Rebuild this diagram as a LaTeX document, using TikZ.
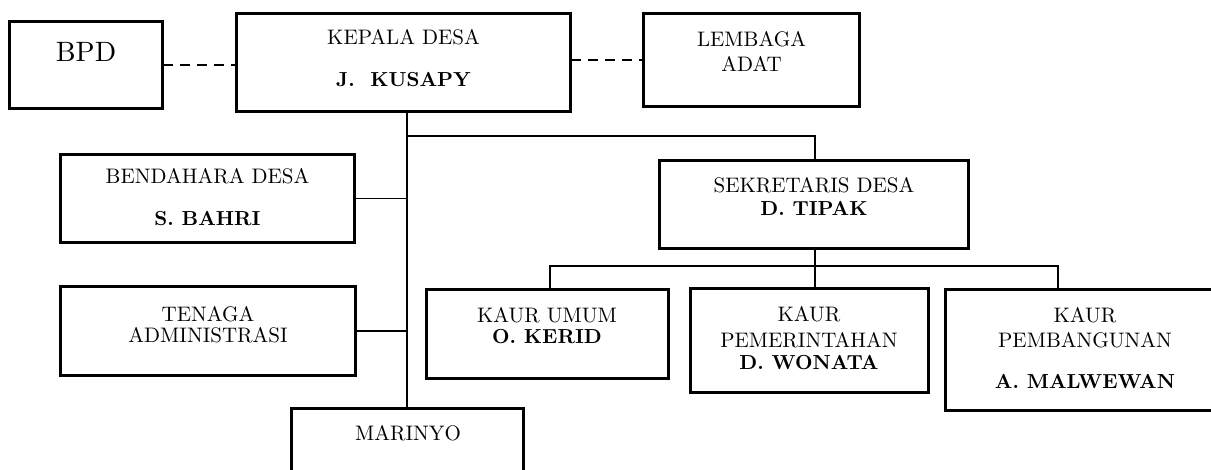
\documentclass[tikz,border=0pt]{standalone}
\usepackage{fontspec}
\setmainfont{lmroman10-regular}[Extension=.otf, BoldFont=lmroman10-bold]
\begin{document}
\begin{tikzpicture}[x=1pt,y=-1pt,
  orgbox/.style={draw=black, line width=2.4pt, fill=white,
     preaction={draw=gray!60, line width=4.4pt}, inner sep=0pt},
  conn/.style={draw=black, line width=1.9pt},
  dashconn/.style={draw=black, line width=2pt, dash pattern=on 10pt off 7pt},
  txt/.style={anchor=base, inner sep=0pt, font=\fontsize{21}{25}\selectfont},
  btxt/.style={anchor=base, inner sep=0pt, font=\fontsize{20.3}{23}\selectfont\bfseries},
  bigtxt/.style={anchor=base, inner sep=0pt, font=\fontsize{28}{32}\selectfont}]
\useasboundingbox (0,0) rectangle (1211,470);
\clip (0,0) rectangle (1211,470);

% boxes
\node[orgbox, minimum width=152pt, minimum height=86pt] (bpd) at (86,65) {};
\node[orgbox, minimum width=333pt, minimum height=97pt] (kd) at (403.5,62.5) {};
\node[orgbox, minimum width=215pt, minimum height=92pt] (la) at (751.5,60) {};
\node[orgbox, minimum width=293pt, minimum height=87pt] (bd) at (207.5,198.5) {};
\node[orgbox, minimum width=294pt, minimum height=88pt] (ta) at (208,331) {};
\node[orgbox, minimum width=231pt, minimum height=86pt] (mr) at (407.5,452) {};
\node[orgbox, minimum width=308pt, minimum height=87pt] (sd) at (814,204.5) {};
\node[orgbox, minimum width=241pt, minimum height=88pt] (ku) at (547.5,334) {};
\node[orgbox, minimum width=237pt, minimum height=103pt] (kp) at (809.5,340.5) {};
\node[orgbox, minimum width=278pt, minimum height=120pt] (kb) at (1085,350) {};

% junction points
\coordinate (t) at (407,136);
\coordinate (s) at (815,266);
\coordinate (s2) at (1058,266);
\coordinate (s1) at (550,266);

% connectors
\draw[dashconn] (bpd.east) -- (kd.west |- bpd.east);
\draw[dashconn] (kd.east |- la.west) -- (la.west);
\draw[conn] (kd.south -| t) -- (mr.north -| t);
\draw[conn] (t) -| (sd.north -| s);
\draw[conn] (bd.east) -- (bd.east -| t);
\draw[conn] (ta.east) -- (ta.east -| t);
\draw[conn] (sd.south -| s) -- (kp.north -| s);
\draw[conn] (ku.north -| s1) -- (s1) -- (s2) -- (kb.north -| s2);

% redraw boxes' borders above line ends
\foreach \n in {bpd,kd,la,bd,ta,mr,sd,ku,kp,kb}{
  \draw[black, line width=2.4pt] (\n.north west) rectangle (\n.south east);
}

% texts
\node[bigtxt] (tbpd) at (86,62) {BPD};
\node[txt] (tkd1) at (403.5,45) {KEPALA DESA};
\node[btxt] (tkd2) at (403.5,87) {J.\ \ KUSAPY};
\node[txt] (tla1) at (751.5,47) {LEMBAGA};
\node[txt] (tla2) at (751.5,72) {ADAT};
\node[txt] (tbd1) at (207.5,184) {BENDAHARA DESA};
\node[btxt] (tbd2) at (207.5,226) {S. BAHRI};
\node[txt] (tta1) at (208,322) {TENAGA};
\node[txt] (tta2) at (208,343) {ADMINISTRASI};
\node[txt] (tmr) at (408,440) {MARINYO};
\node[txt] (tsd1) at (814,193) {SEKRETARIS DESA};
\node[btxt] (tsd2) at (814,216) {D. TIPAK};
\node[txt] (tku1) at (547,323) {KAUR UMUM};
\node[btxt] (tku2) at (547,344) {O. KERID};
\node[txt] (tkp1) at (809,322) {KAUR};
\node[txt] (tkp2) at (809,348) {PEMERINTAHAN};
\node[btxt] (tkp3) at (809,370) {D. WONATA};
\node[txt] (tkb1) at (1085,323) {KAUR};
\node[txt] (tkb2) at (1085,348) {PEMBANGUNAN};
\node[btxt] (tkb3) at (1085,389) {A. MALWEWAN};
\end{tikzpicture}
\end{document}
